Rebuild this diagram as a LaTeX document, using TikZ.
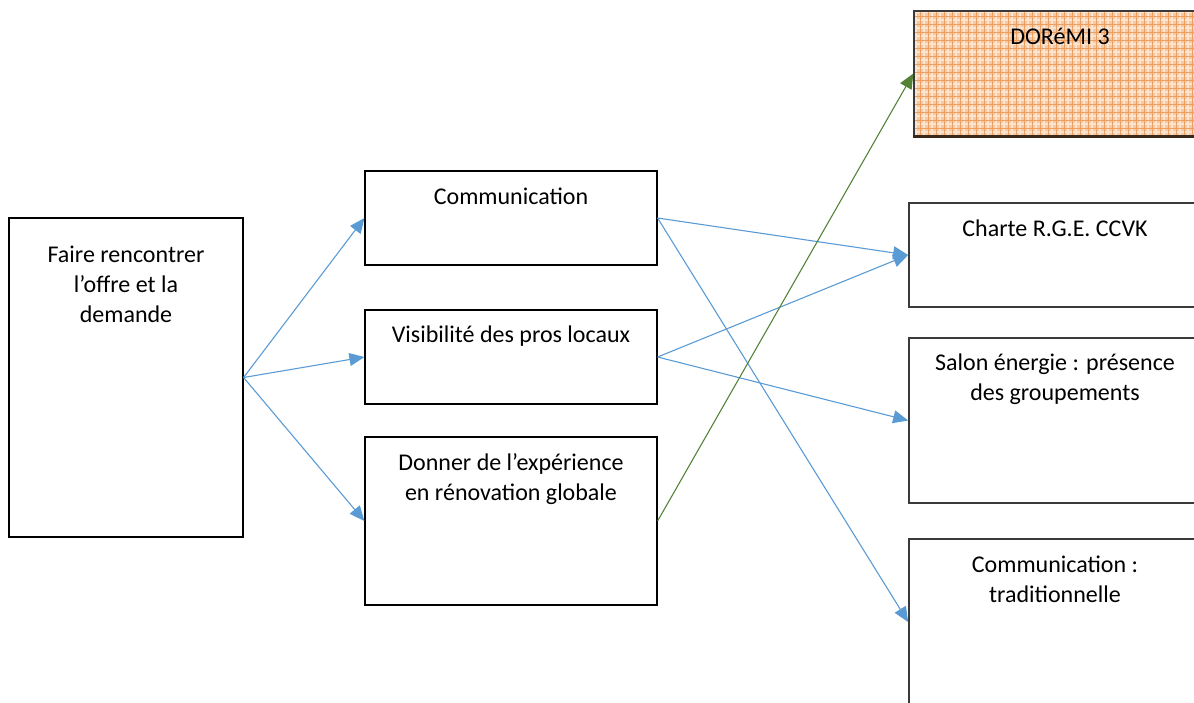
\documentclass[tikz,border=0pt]{standalone}
\usepackage{fontspec}
\setmainfont{Carlito}
\usetikzlibrary{arrows.meta}
\definecolor{arrblue}{HTML}{5B9BD5}
\definecolor{arrgreen}{HTML}{548235}
\definecolor{patbg}{HTML}{F3C9A6}
\definecolor{patline}{HTML}{EC9F5E}
\definecolor{patlight}{HTML}{FAE3CF}
\definecolor{boxline}{HTML}{3A3A3A}
\tikzset{
  box/.style={draw=black, line width=0.6pt, fill=white, inner sep=0pt, rectangle},
  rbox/.style={draw=boxline, line width=0.85pt, fill=white, inner sep=0pt, rectangle},
  txt/.style={anchor=north, inner sep=0pt, align=center, font=\fontsize{12}{15}\selectfont},
  bluearrow/.style={draw=arrblue, line width=0.55pt, -{Triangle[length=7.5pt,width=6.5pt]}},
  greenarrow/.style={draw=arrgreen, line width=0.55pt, -{Triangle[length=7.5pt,width=6.5pt]}}
}
\begin{document}
\begin{tikzpicture}[x=0.5pt,y=-0.5pt]
\useasboundingbox (0,0) rectangle (1194,702);
\clip (0,0) rectangle (1194,702);
% left box
\node[box, minimum width=117pt, minimum height=159.5pt] (a) at (126,377.5) {};
% middle boxes
\node[box, minimum width=146pt, minimum height=47pt] (b) at (511,218) {};
\node[box, minimum width=146pt, minimum height=47pt] (c) at (511,357) {};
\node[box, minimum width=146pt, minimum height=84pt] (d) at (511,521) {};
% right boxes
\begin{scope}
  \clip (914,11) rectangle (1206,136);
  \fill[patbg] (914,11) rectangle (1206,136);
  \draw[patlight, line width=1pt, step=4pt, xshift=2pt, yshift=2pt] (900,0) grid (1220,150);
  \draw[patline, line width=0.5pt, step=4pt] (900,0) grid (1220,150);
\end{scope}
\node[draw=boxline, line width=0.7pt, inner sep=0pt, rectangle, minimum width=146pt, minimum height=62.5pt] (e) at (1060,73.5) {};
\draw[draw={rgb,255:red,60;green,40;blue,25}, line width=1.3pt] (e.south west) -- (e.south east);
\node[rbox, minimum width=146pt, minimum height=52pt] (f) at (1055,255) {};
\node[rbox, minimum width=146pt, minimum height=82.5pt] (g) at (1055,420.5) {};
\node[rbox, minimum width=146pt, minimum height=83pt] (h) at (1055,622) {};
% texts
\node[txt] (ta) at (126,241) {\strut Faire rencontrer\\l’offre et la\\demande};
\node[txt] (tb) at (511,183) {\strut Communication};
\node[txt] (tc) at (511,321) {\strut Visibilité des pros locaux};
\node[txt] (td) at (511,449) {\strut Donner de l’expérience\\en rénovation globale};
\node[txt] (te) at (1060,23) {\strut DORéMI 3};
\node[txt] (tf) at (1055,215) {\strut Charte R.G.E. CCVK};
\node[txt] (tg) at (1055,349) {\strut Salon énergie : présence\\des groupements};
\node[txt] (th) at (1055,551) {\strut Communication :\\traditionnelle};
% connectors
\draw[bluearrow] (a.east) -- (b.west);
\draw[bluearrow] (a.east) -- (c.west);
\draw[bluearrow] (a.east) -- (d.west);
\draw[bluearrow] (b.east) -- (f.west);
\draw[bluearrow] (b.east) -- (h.west);
\draw[bluearrow] (c.east) -- (f.west);
\draw[bluearrow] (c.east) -- (g.west);
\draw[greenarrow] (d.east) -- (e.west);
\end{tikzpicture}
\end{document}
